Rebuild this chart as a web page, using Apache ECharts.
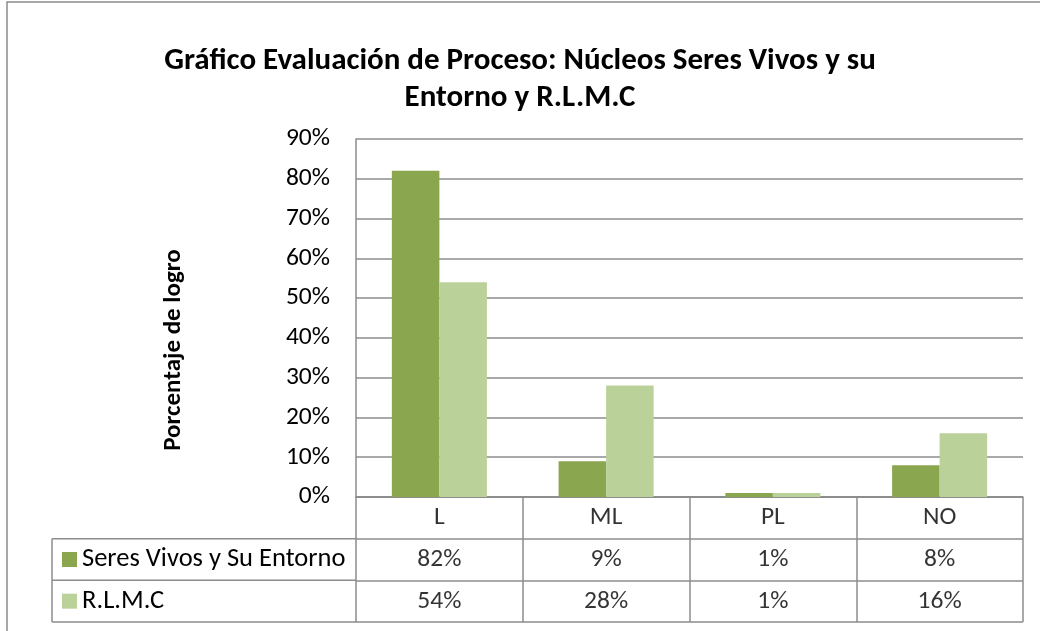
<!DOCTYPE html>
<html>
<head>
<meta charset="utf-8">
<script src="https://cdn.jsdelivr.net/npm/echarts@6/dist/echarts.min.js"></script>
<style>
  html, body { margin: 0; padding: 0; background: #fff; }
  #main { width: 1040px; height: 631px; }
</style>
</head>
<body>
<div id="main"></div>
<script>
// datos del gráfico
const categories = ['L', 'ML', 'PL', 'NO']
const seriesNames = ['Seres Vivos y Su Entorno', 'R.L.M.C']
const seresVivos = [0.82, 0.09, 0.01, 0.08]
const rlmc = [0.54, 0.28, 0.01, 0.16]
const yMax = 0.9
const yStep = 0.1

const colors = ['#8aa64e', '#bbd19a']
const lineColor = '#8c8c8c'
const font = 'Carlito, Calibri, "Open Sans", sans-serif'
const bodySize = 25.5

// layout (px)
const plotLeft = 356
const plotRight = 1023
const plotTop = 139
const axisY = 497
const tableBottom = 622
const legendLeft = 52
const rowH = (tableBottom - axisY) / 3

const pct = v => Math.round(v * 100) + '%'

const rowKeys = ['hdr', 's0', 's1']
const allValues = [seresVivos, rlmc]

// textos de la tabla
const cellData = []
categories.forEach((c, i) => {
  cellData.push({ value: [c, 'hdr'], text: c })
  allValues.forEach((vals, s) => {
    cellData.push({ value: [c, rowKeys[s + 1]], text: pct(vals[i]) })
  })
})

const chart = echarts.init(document.getElementById('main'))

const option = {
  animation: false,
  title: {
    text: 'Gráfico Evaluación de Proceso: Núcleos Seres Vivos y su\nEntorno y R.L.M.C',
    left: 'center',
    top: 38,
    textStyle: {
      fontFamily: font,
      fontWeight: 'bold',
      fontSize: 31,
      lineHeight: 37,
      color: '#000'
    }
  },
  grid: [
    { left: plotLeft, top: plotTop, width: plotRight - plotLeft, height: axisY - plotTop },
    { left: plotLeft, top: axisY, width: plotRight - plotLeft, height: tableBottom - axisY }
  ],
  xAxis: [
    {
      type: 'category',
      gridIndex: 0,
      data: categories,
      axisLine: { show: true, lineStyle: { color: lineColor, width: 1.5 } },
      axisTick: { show: false },
      axisLabel: { show: false },
      splitLine: { show: false }
    },
    {
      type: 'category',
      gridIndex: 1,
      data: categories,
      axisLine: { show: false },
      axisTick: { show: false },
      axisLabel: { show: false },
      splitLine: { show: true, lineStyle: { color: lineColor, width: 1.5 } }
    }
  ],
  yAxis: [
    {
      type: 'value',
      gridIndex: 0,
      min: 0,
      max: yMax,
      interval: yStep,
      name: 'Porcentaje de logro',
      nameLocation: 'middle',
      nameRotate: 90,
      nameGap: 170,
      nameTextStyle: {
        fontFamily: font,
        fontWeight: 'bold',
        fontSize: 25,
        color: '#000',
        padding: [0, 64, 0, 0]
      },
      axisLine: { show: true, lineStyle: { color: lineColor, width: 1.5 } },
      axisTick: { show: false },
      axisLabel: { formatter: v => pct(v), fontFamily: font, fontSize: bodySize, color: '#000', margin: 26 },
      splitLine: { show: true, lineStyle: { color: lineColor, width: 1.5 } }
    },
    {
      type: 'category',
      gridIndex: 1,
      inverse: true,
      data: rowKeys,
      axisLine: { show: false },
      axisTick: { show: false },
      axisLabel: {
        align: 'left',
        margin: plotLeft - legendLeft - 10,
        formatter: v => {
          const idx = rowKeys.indexOf(v) - 1
          if (idx < 0) return ''
          return '{s' + idx + '|}{t|' + seriesNames[idx] + '}'
        },
        rich: {
          s0: { width: 15, height: 15, backgroundColor: colors[0] },
          s1: { width: 15, height: 15, backgroundColor: colors[1] },
          t: { fontFamily: font, fontSize: 26.5, color: '#000', padding: [0, 0, 0, 5] }
        }
      },
      splitLine: { show: true, lineStyle: { color: lineColor, width: 1.5 } }
    }
  ],
  series: [
    {
      name: seriesNames[0],
      type: 'bar',
      xAxisIndex: 0,
      yAxisIndex: 0,
      data: seresVivos,
      barGap: '0%',
      barCategoryGap: '43%',
      itemStyle: { color: colors[0] }
    },
    {
      name: seriesNames[1],
      type: 'bar',
      xAxisIndex: 0,
      yAxisIndex: 0,
      data: rlmc,
      itemStyle: { color: colors[1] }
    },
    {
      type: 'scatter',
      xAxisIndex: 1,
      yAxisIndex: 1,
      symbolSize: 0,
      data: cellData,
      label: {
        show: true,
        position: 'inside',
        formatter: p => p.data.text,
        fontFamily: font,
        fontSize: bodySize,
        color: '#000'
      }
    }
  ],
  graphic: [
    // marco exterior
    { type: 'rect', shape: { x: 7, y: 2, width: 1100, height: 700 }, style: { fill: 'none', stroke: lineColor, lineWidth: 1.5 }, silent: true },
    // bordes de la columna de leyenda
    { type: 'line', shape: { x1: legendLeft, y1: axisY + rowH, x2: plotLeft, y2: axisY + rowH }, style: { stroke: lineColor, lineWidth: 1.5 } },
    { type: 'line', shape: { x1: legendLeft, y1: axisY + 2 * rowH, x2: plotLeft, y2: axisY + 2 * rowH }, style: { stroke: lineColor, lineWidth: 1.5 } },
    { type: 'line', shape: { x1: legendLeft, y1: tableBottom, x2: plotLeft, y2: tableBottom }, style: { stroke: lineColor, lineWidth: 1.5 } },
    { type: 'line', shape: { x1: legendLeft, y1: axisY + rowH, x2: legendLeft, y2: tableBottom }, style: { stroke: lineColor, lineWidth: 1.5 } }
  ]
}

chart.setOption(option)
</script>
</body>
</html>
